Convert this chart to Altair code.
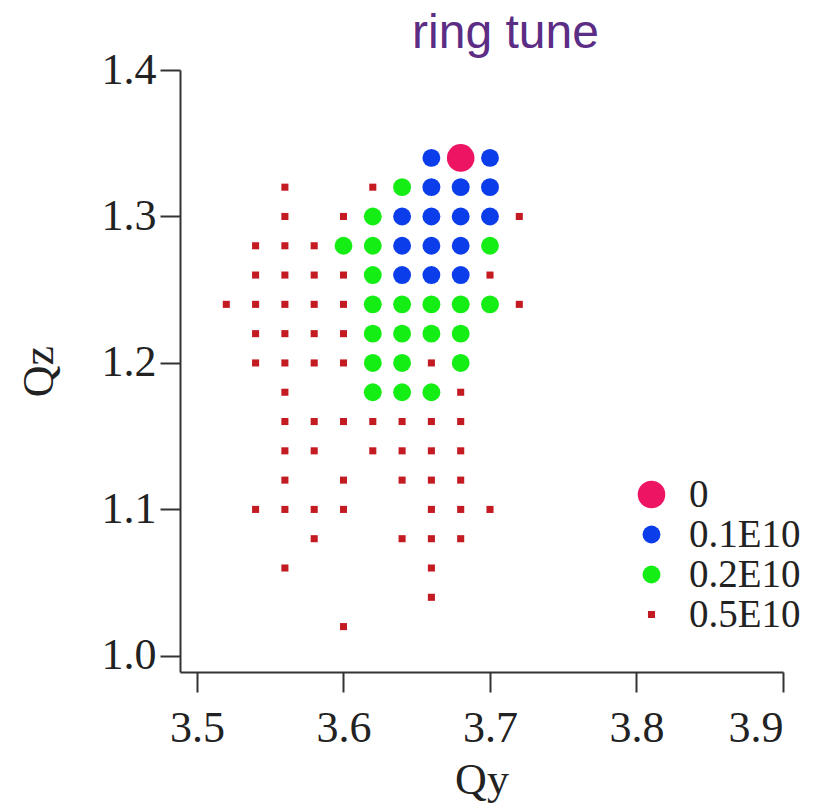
import altair as alt
import pandas as pd

# ---- data ----
groups = ["0", "0.1E10", "0.2E10", "0.5E10"]
colors = ["#EE1464", "#0B3DEB", "#14EE14", "#C41A22"]
shapes = ["circle", "circle", "circle", "square"]
sizes = [760, 320, 320, 50]

qy_0 = [3.68]
qz_0 = [1.34]

qy_1 = [3.66, 3.70, 3.66, 3.68, 3.70, 3.64, 3.66, 3.68, 3.70, 3.64, 3.66, 3.68, 3.64, 3.66, 3.68]
qz_1 = [1.34, 1.34, 1.32, 1.32, 1.32, 1.30, 1.30, 1.30, 1.30, 1.28, 1.28, 1.28, 1.26, 1.26, 1.26]

qy_2 = [3.64, 3.62, 3.60, 3.62, 3.70, 3.62, 3.62, 3.64, 3.66, 3.68, 3.70,
        3.62, 3.64, 3.66, 3.68, 3.62, 3.64, 3.68, 3.62, 3.64, 3.66]
qz_2 = [1.32, 1.30, 1.28, 1.28, 1.28, 1.26, 1.24, 1.24, 1.24, 1.24, 1.24,
        1.22, 1.22, 1.22, 1.22, 1.20, 1.20, 1.20, 1.18, 1.18, 1.18]

qy_5 = [3.56, 3.62,
        3.56, 3.60, 3.72,
        3.54, 3.56, 3.58,
        3.54, 3.56, 3.58, 3.60, 3.70,
        3.52, 3.54, 3.56, 3.58, 3.60, 3.72,
        3.54, 3.56, 3.58, 3.60,
        3.54, 3.56, 3.58, 3.60, 3.66,
        3.56, 3.68,
        3.56, 3.58, 3.60, 3.62, 3.64, 3.66, 3.68,
        3.56, 3.58, 3.62, 3.64, 3.66, 3.68,
        3.56, 3.60, 3.64, 3.66, 3.68,
        3.54, 3.56, 3.58, 3.60, 3.66, 3.68, 3.70,
        3.58, 3.64, 3.66, 3.68,
        3.56, 3.66,
        3.66,
        3.60]
qz_5 = [1.32, 1.32,
        1.30, 1.30, 1.30,
        1.28, 1.28, 1.28,
        1.26, 1.26, 1.26, 1.26, 1.26,
        1.24, 1.24, 1.24, 1.24, 1.24, 1.24,
        1.22, 1.22, 1.22, 1.22,
        1.20, 1.20, 1.20, 1.20, 1.20,
        1.18, 1.18,
        1.16, 1.16, 1.16, 1.16, 1.16, 1.16, 1.16,
        1.14, 1.14, 1.14, 1.14, 1.14, 1.14,
        1.12, 1.12, 1.12, 1.12, 1.12,
        1.10, 1.10, 1.10, 1.10, 1.10, 1.10, 1.10,
        1.08, 1.08, 1.08, 1.08,
        1.06, 1.06,
        1.04,
        1.02]

x_ticks = [3.5, 3.6, 3.7, 3.8, 3.9]
y_ticks = [1.0, 1.1, 1.2, 1.3, 1.4]

rows = []
for g, xs, ys in [("0", qy_0, qz_0), ("0.1E10", qy_1, qz_1),
                  ("0.2E10", qy_2, qz_2), ("0.5E10", qy_5, qz_5)]:
    for a, b in zip(xs, ys):
        rows.append({"Qy": a, "Qz": b, "intensity": g})
df = pd.DataFrame(rows)

serif = "Liberation Serif"
axis_common = dict(
    domainColor="#333333", domainWidth=2,
    tickColor="#333333", tickWidth=2, tickSize=20,
    labelFont=serif, labelFontSize=44, labelColor="#222222",
    titleFont=serif, titleFontSize=44, titleFontWeight="normal", titleColor="#222222",
    grid=False,
)

legend = alt.Legend(
    title=None, orient="none", legendX=452, legendY=410,
    labelFont=serif, labelFontSize=39, labelColor="#222222",
    clipHeight=29, rowPadding=0, labelOffset=18, symbolStrokeWidth=0,
)

chart = alt.Chart(df).mark_point(filled=True, opacity=1, strokeWidth=0).encode(
    x=alt.X("Qy:Q", scale=alt.Scale(domain=[3.4884, 3.9], nice=False, zero=False),
            axis=alt.Axis(values=x_ticks, format=".1f", labelPadding=14,
                          titlePadding=8, **axis_common)),
    y=alt.Y("Qz:Q", scale=alt.Scale(domain=[0.989, 1.4], nice=False, zero=False),
            axis=alt.Axis(values=y_ticks, format=".1f", labelPadding=4,
                          titlePadding=40, **axis_common)),
    color=alt.Color("intensity:N", scale=alt.Scale(domain=groups, range=colors), legend=legend),
    shape=alt.Shape("intensity:N", scale=alt.Scale(domain=groups, range=shapes), legend=legend),
    size=alt.Size("intensity:N", scale=alt.Scale(type="ordinal", domain=groups, range=sizes), legend=legend),
    order=alt.Order("intensity:N", sort="descending"),
).properties(
    width=603, height=602,
    autosize=alt.AutoSizeParams(type="none"),
    padding={"left": 180, "top": 70, "right": 32, "bottom": 133},
    title=alt.TitleParams("ring tune", font="Liberation Sans", fontSize=48,
                          fontWeight="normal", color="#5B2D84", anchor="middle",
                          frame="group", dx=24, offset=-10),
).configure_view(stroke=None)

chart.save("out.html", embed_options={"renderer": "svg", "actions": False})
